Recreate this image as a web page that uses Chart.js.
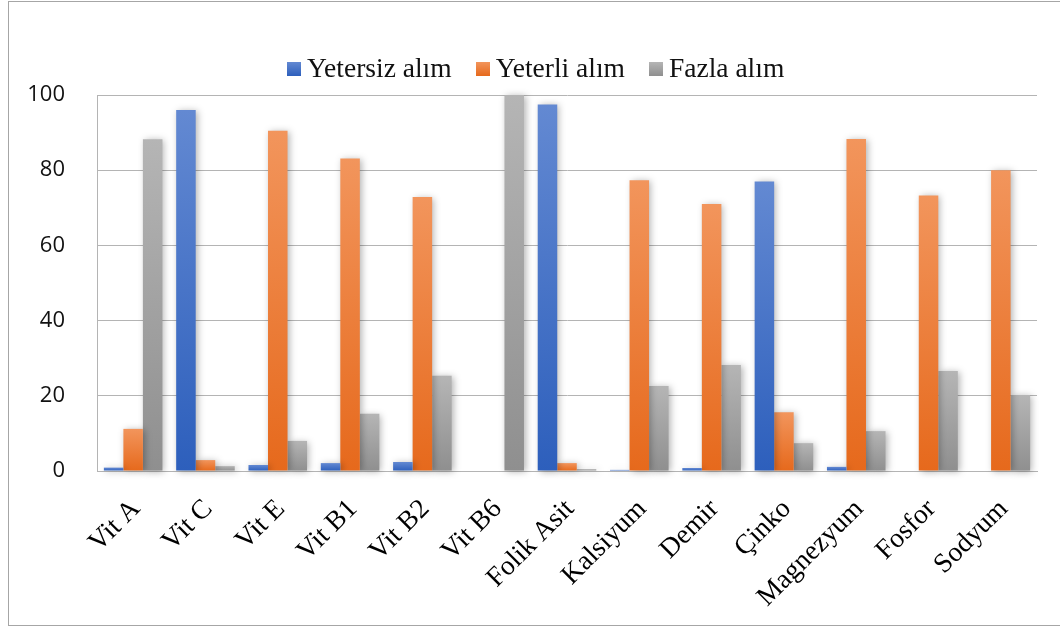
<!DOCTYPE html>
<html>
<head>
<meta charset="utf-8">
<script src="https://cdn.jsdelivr.net/npm/chart.js@4.4.1/dist/chart.umd.min.js"></script>
<style>
  html, body { margin: 0; padding: 0; background: #fff; overflow: hidden; }
  #wrap { position: relative; width: 1060px; height: 628px; }
  #frame { position: absolute; left: 8px; top: 1px; width: 1100px; height: 623px; border: 1px solid #a6a6a6; }
  #chart { position: absolute; left: 0; top: 0; }
  #legend { position: absolute; left: 287px; top: 54px; display: flex; align-items: center;
            font-family: "Liberation Serif", "Times New Roman", serif; font-size: 27.5px; line-height: 27px; color: #111; }
  #legend .item { display: flex; align-items: center; margin-right: 24px; }
  #legend .box { width: 14px; height: 14px; margin-right: 6px; margin-top: 2px; }
</style>
</head>
<body>
<div id="wrap">
  <div id="frame"></div>
  <canvas id="chart" width="1060" height="628"></canvas>
  <div id="legend"></div>
</div>
<script>
// Kategoriler ve seriler (yüzde)
const categories = ['Vit A', 'Vit C', 'Vit E', 'Vit B1', 'Vit B2', 'Vit B6', 'Folik Asit',
                    'Kalsiyum', 'Demir', 'Çinko', 'Magnezyum', 'Fosfor', 'Sodyum'];
const seriesNames = ['Yetersiz alım', 'Yeterli alım', 'Fazla alım'];
const yetersiz = [0.9, 96, 1.6, 2.1, 2.4, 0, 97.5, 0.3, 0.8, 77, 1.1, 0, 0];
const yeterli  = [11.2, 2.9, 90.5, 83.1, 72.9, 0, 2.1, 77.3, 71, 15.6, 88.3, 73.3, 80];
const fazla    = [88.2, 1.3, 8, 15.2, 25.3, 100, 0.5, 22.6, 28.2, 7.4, 10.6, 26.6, 20.2];
const yTicks = [0, 20, 40, 60, 80, 100];

// gradyan renkleri: üst (açık) -> alt (koyu)
const colorsTop    = ['#6389d2', '#f2955c', '#b5b5b5'];
const colorsBottom = ['#2d5fbc', '#e6691c', '#8f8f8f'];

const barGradient = function(i) {
    return function(ctx) {
        const chart = ctx.chart;
        const y = chart.scales && chart.scales.y;
        if (!y || ctx.type !== 'data') return colorsBottom[i];
        const y0 = y.getPixelForValue(0);
        const y1 = y.getPixelForValue(ctx.raw);
        if (!isFinite(y0) || !isFinite(y1) || y0 === y1) return colorsBottom[i];
        const g = chart.ctx.createLinearGradient(0, y1, 0, y0);
        g.addColorStop(0, colorsTop[i]);
        g.addColorStop(1, colorsBottom[i]);
        return g;
    };
};

// Excel tarzı hafif gölge
const barShadow = {
    id: 'barShadow',
    beforeDatasetsDraw(chart) {
        const c = chart.ctx;
        c.save();
        c.shadowColor = 'rgba(0,0,0,0.3)';
        c.shadowBlur = 7;
        c.shadowOffsetX = 2;
        c.shadowOffsetY = 1;
    },
    afterDatasetsDraw(chart) {
        chart.ctx.restore();
    }
};

const gridColor = '#b4b4b4';
const data = [yetersiz, yeterli, fazla];

new Chart(document.getElementById('chart').getContext('2d'), {
    type: 'bar',
    data: {
        labels: categories,
        datasets: seriesNames.map((name, i) => ({
            label: name,
            data: data[i],
            backgroundColor: barGradient(i),
            borderWidth: 0,
            categoryPercentage: 0.81,
            barPercentage: 1.0,
            clip: false
        }))
    },
    plugins: [barShadow],
    options: {
        responsive: false,
        animation: false,
        layout: { padding: { top: 95, right: 23, bottom: 0, left: 0 } },
        plugins: {
            legend: { display: false },
            tooltip: { enabled: false }
        },
        scales: {
            x: {
                grid: { display: false, drawTicks: false },
                border: { display: true, color: gridColor, width: 1 },
                ticks: {
                    autoSkip: false,
                    minRotation: 45,
                    maxRotation: 45,
                    padding: 22,
                    labelOffset: 3,
                    color: '#000',
                    font: { family: '"Liberation Serif", "Times New Roman", serif', size: 27.5 }
                },
                afterFit: function(scale) { scale.height = 157; }
            },
            y: {
                min: 0,
                max: 100,
                afterBuildTicks: function(scale) { scale.ticks = yTicks.map(v => ({ value: v })); },
                grid: { color: gridColor, lineWidth: 1, drawTicks: false },
                border: { display: true, color: gridColor, width: 1 },
                ticks: {
                    padding: 32,
                    color: '#111',
                    font: { family: '"Open Sans", sans-serif', size: 22 }
                },
                afterFit: function(scale) { scale.width = 97; }
            }
        }
    }
});

// HTML lejant
const legendEl = document.getElementById('legend');
seriesNames.forEach((name, i) => {
    const item = document.createElement('span');
    item.className = 'item';
    const box = document.createElement('span');
    box.className = 'box';
    box.style.background = 'linear-gradient(' + colorsTop[i] + ', ' + colorsBottom[i] + ')';
    const txt = document.createElement('span');
    txt.textContent = name;
    item.appendChild(box);
    item.appendChild(txt);
    legendEl.appendChild(item);
});
</script>
</body>
</html>
